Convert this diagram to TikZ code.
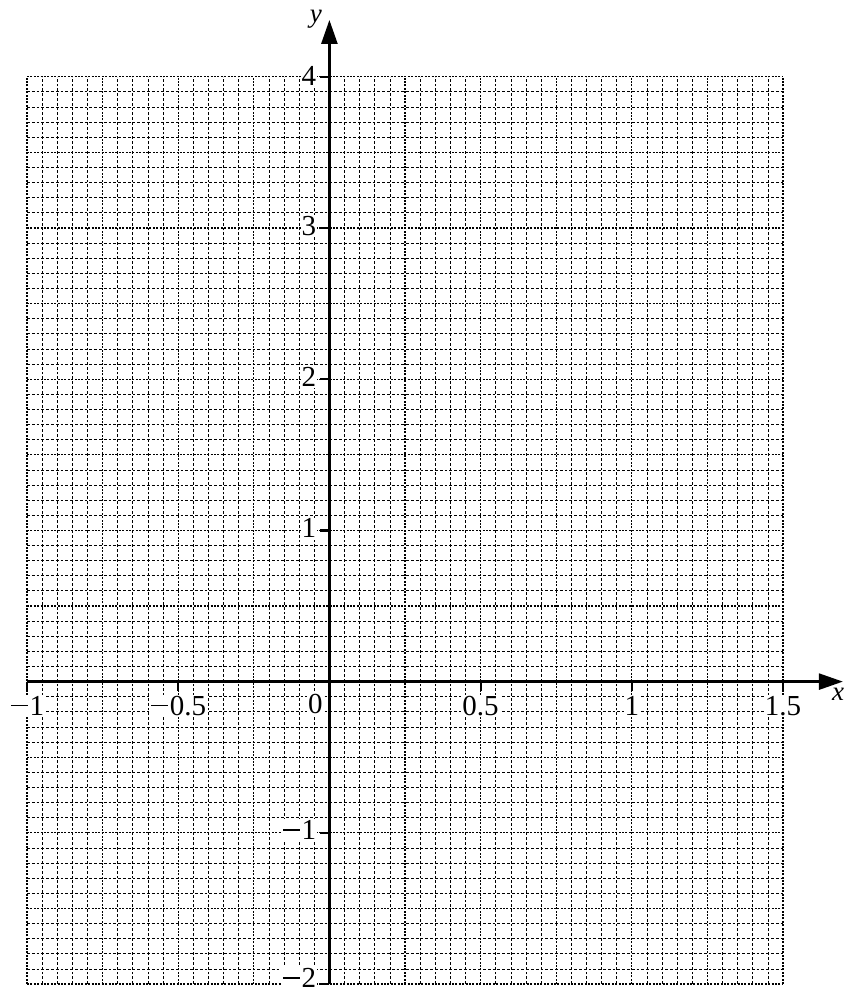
\documentclass[tikz,border=0pt]{standalone}
\usepackage{fontspec}
\setmainfont{Liberation Serif}
\usetikzlibrary{arrows.meta}
\newcommand\mminus{\kern0.03em\rule[0.3em]{0.6em}{0.05em}\kern0.05em}
\begin{document}
\begin{tikzpicture}[x=302.4pt,y=151.2pt,
  minorline/.style={line width=0.75pt,dash pattern=on 2.8pt off 2pt},
  majorline/.style={line width=1.2pt,dash pattern=on 2pt off 1.4pt},
  axisline/.style={line width=2.5pt,-{Triangle[length=24pt,width=16pt]}},
  tickline/.style={line width=2.2pt},
  lab/.style={font=\fontsize{29}{33}\selectfont,inner sep=1pt,fill=white},
  xlab/.style={lab,anchor=base,yshift=-33.5pt},
  ylab/.style={lab,anchor=east,xshift=-12pt}]
\useasboundingbox (-1.0893,-2.066) rectangle (1.7050,4.508);
% grid
\foreach \i in {0,...,50}{
  \pgfmathtruncatemacro{\m}{mod(\i,5)}
  \pgfmathsetmacro{\xx}{-1+\i*0.05}
  \ifnum\m=0
    \draw[majorline] (\xx,-2) -- (\xx,4);
  \else
    \draw[minorline] (\xx,-2) -- (\xx,4);
  \fi
}
\foreach \j in {0,...,60}{
  \pgfmathtruncatemacro{\m}{mod(\j,5)}
  \pgfmathsetmacro{\yy}{-2+\j*0.1}
  \ifnum\m=0
    \draw[majorline] (-1,\yy) -- (1.5,\yy);
  \else
    \draw[minorline] (-1,\yy) -- (1.5,\yy);
  \fi
}
% axes
\coordinate (xs) at (-1,0);
\coordinate (xe) at (1.698,0);
\coordinate (ys) at (0,-2);
\coordinate (ye) at (0,4.376);
% x ticks
\foreach \v/\t [count=\k] in {-1/\mminus1,-0.5/\mminus0.5,0.5/0.5,1/1,1.5/1.5}{
  \coordinate (xt\k) at (\v,0);
  \coordinate (xb\k) at ([yshift=-9pt]xt\k);
  \node[xlab] (xl\k) at (xt\k) {\t};
  \draw[tickline] (xt\k) -- (xb\k);
}
\node[lab,anchor=base] (zero) at ([xshift=-14pt,yshift=-32pt]0,0) {0};
% y ticks
\foreach \v/\t/\s [count=\k] in {4/4/1,3/3/2,2/2/2,1/1/2,-1/\mminus1/3,-2/\mminus2/6}{
  \coordinate (yt\k) at (0,\v);
  \coordinate (yb\k) at ([xshift=-9pt]yt\k);
  \node[ylab,yshift=\s pt] (yl\k) at (yt\k) {\t};
  \draw[tickline] (yt\k) -- (yb\k);
}
\draw[axisline] (xs) -- (xe);
\draw[axisline] (ys) -- (ye);
\node[lab,fill=none,inner sep=0pt,font=\fontsize{27}{30}\selectfont\itshape] (xname) at (1.682,-0.083) {x};
\node[lab,fill=none,inner sep=0pt,font=\fontsize{27}{30}\selectfont\itshape] (yname) at (-0.045,4.38) {y};
\end{tikzpicture}
\end{document}
